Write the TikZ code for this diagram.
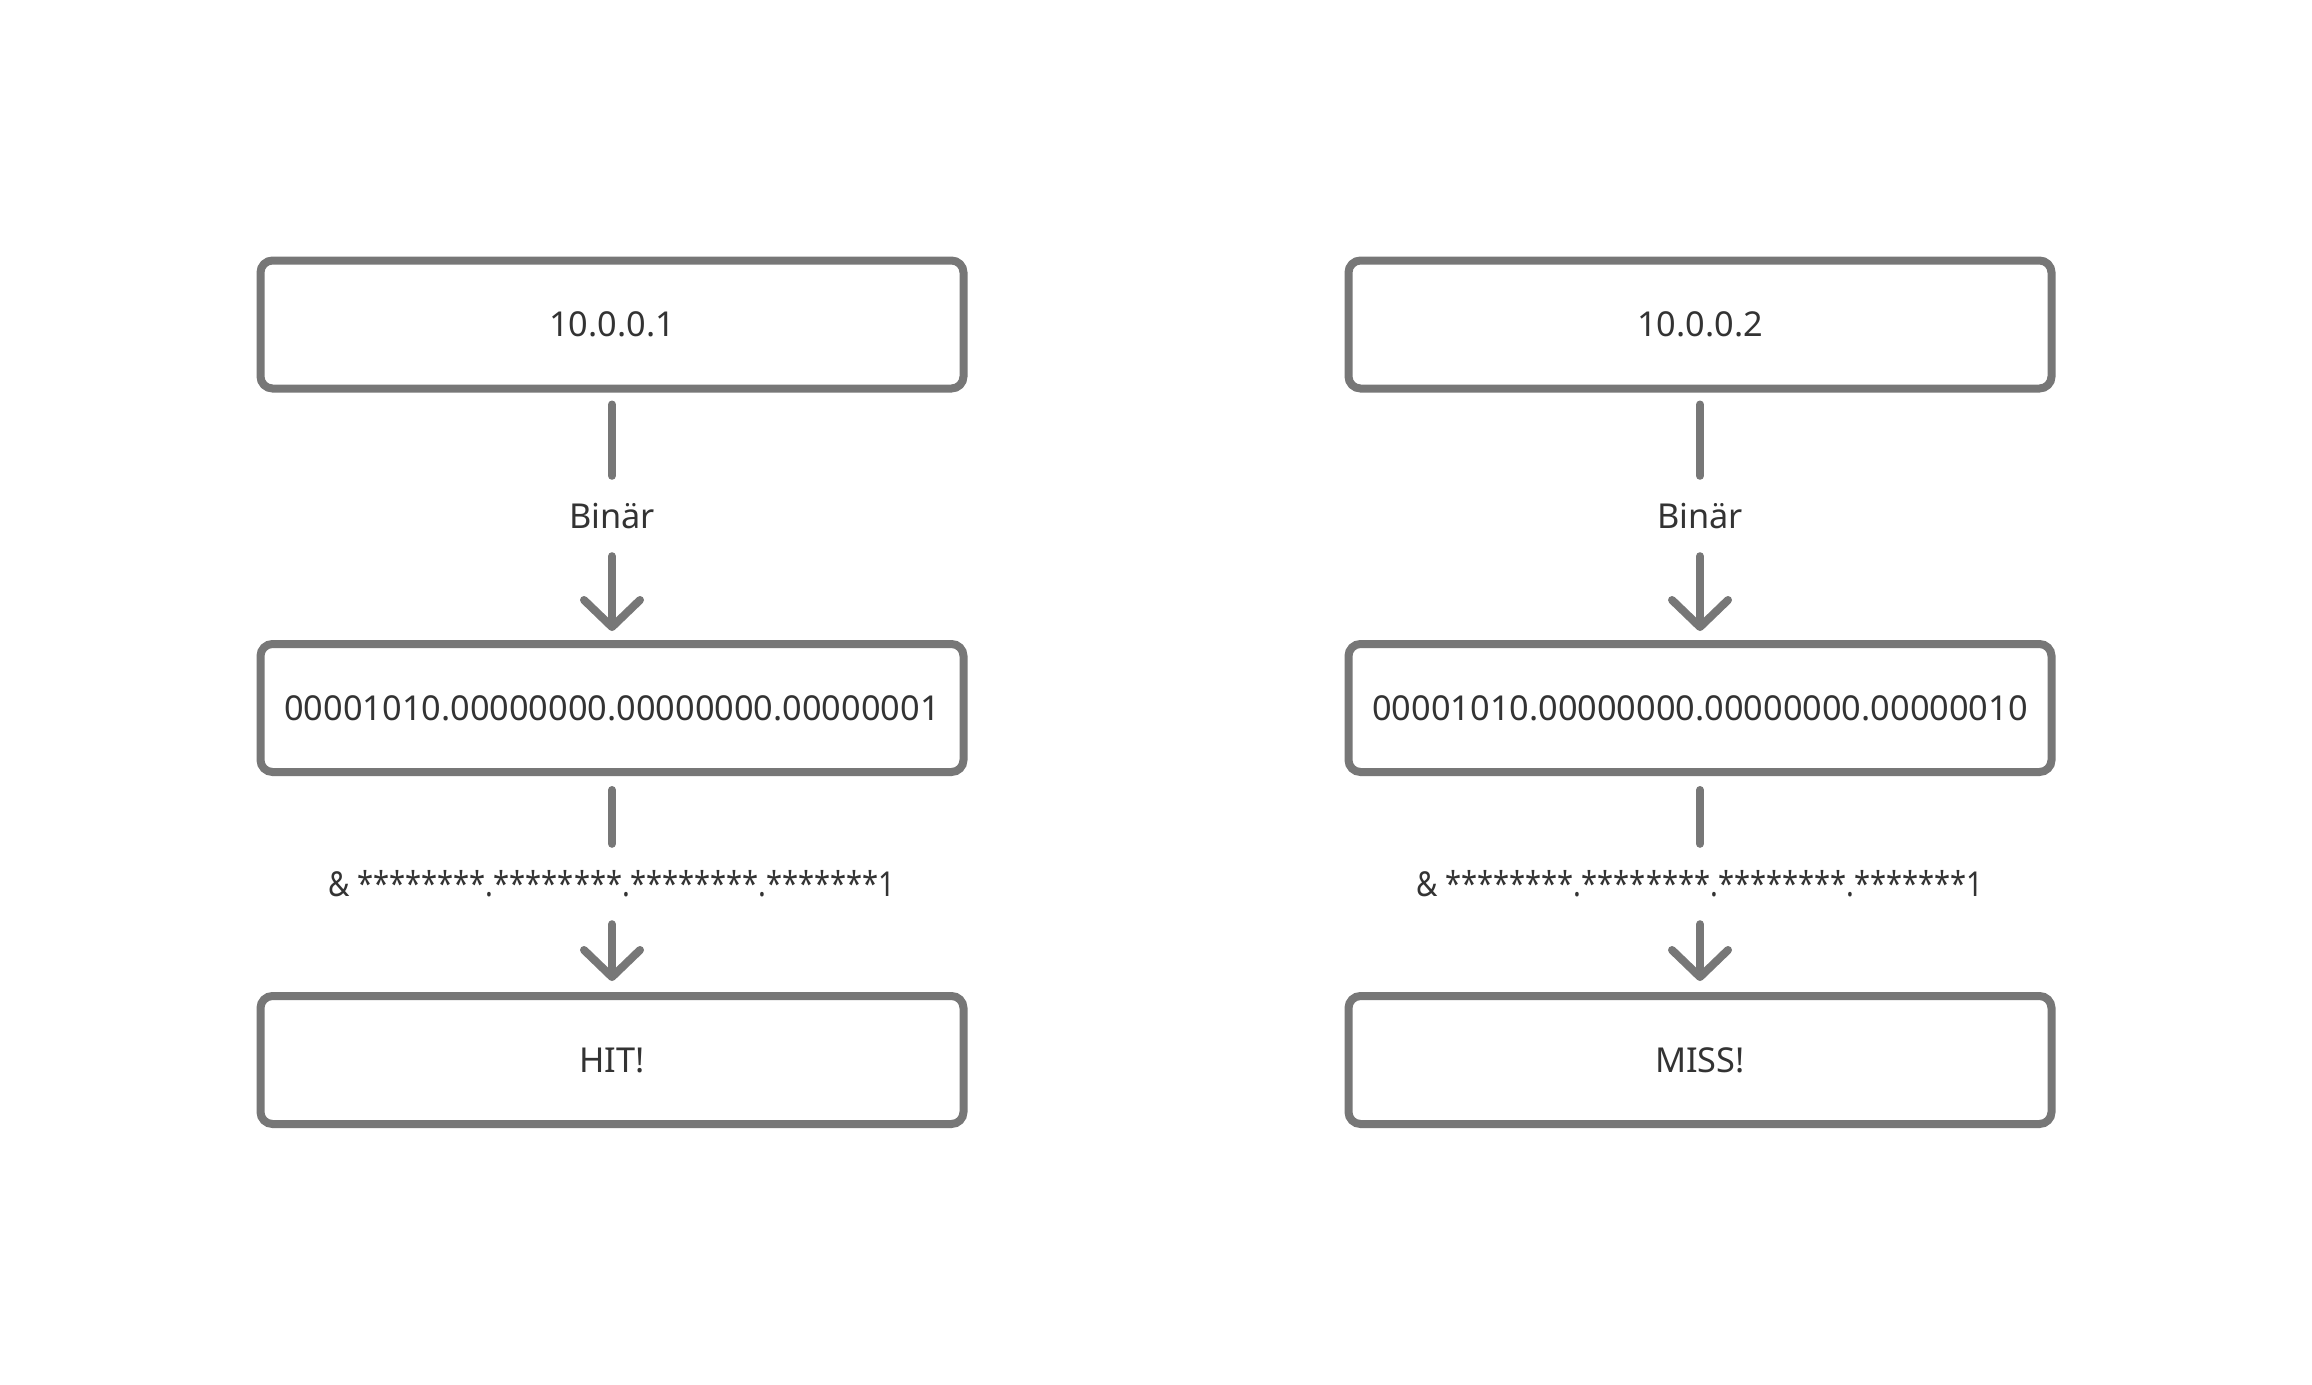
\documentclass[tikz,border=0pt]{standalone}
\usepackage{fontspec}
\setmainfont{Noto Sans}
\usetikzlibrary{arrows.meta}
\definecolor{edgegray}{HTML}{777777}
\definecolor{txtgray}{HTML}{333333}
\begin{document}
\begin{tikzpicture}[x=1pt,y=-1pt,
  box/.style={draw=edgegray, line width=8pt, rounded corners=12pt, minimum width=703pt, minimum height=128pt, inner sep=0pt, text=txtgray, font=\fontsize{34.3}{40}\selectfont},
  lbl/.style={inner sep=0pt, minimum height=80pt, text=txtgray, font=\fontsize{34.3}{40}\selectfont},
  conn/.style={draw=edgegray, line width=8pt, line cap=round},
  arr/.style={conn, -{Straight Barb[length=27pt, width=56pt, line cap=round, line join=round]}}
]
\fill[white] (0,0) rectangle (2312,1384);
\useasboundingbox (0,0) rectangle (2312,1384);

% left column
\node[box] (a1) at (612,324.5) {10.0.0.1};
\node[lbl] (la1) at (612,516) {Binär};
\node[box] (a2) at (612,708) {00001010.00000000.00000000.00000001};
\node[lbl] (la2) at (612,884) {\scalebox{0.85}[1]{\& ********.********.********.*******1}};
\node[box] (a3) at (612,1060) {HIT!};

% right column
\node[box] (b1) at (1700,324.5) {10.0.0.2};
\node[lbl] (lb1) at (1700,516) {Binär};
\node[box] (b2) at (1700,708) {00001010.00000000.00000000.00000010};
\node[lbl] (lb2) at (1700,884) {\scalebox{0.85}[1]{\& ********.********.********.*******1}};
\node[box] (b3) at (1700,1060) {MISS!};

\foreach \c in {a,b}{
  \draw[conn, shorten <=12pt] (\c1.south) -- (l\c1.north);
  \draw[arr, shorten >=9pt] (l\c1.south) -- (\c2.north);
  \draw[conn, shorten <=14pt] (\c2.south) -- (l\c2.north);
  \draw[arr, shorten >=11pt] (l\c2.south) -- (\c3.north);
}
\end{tikzpicture}
\end{document}
